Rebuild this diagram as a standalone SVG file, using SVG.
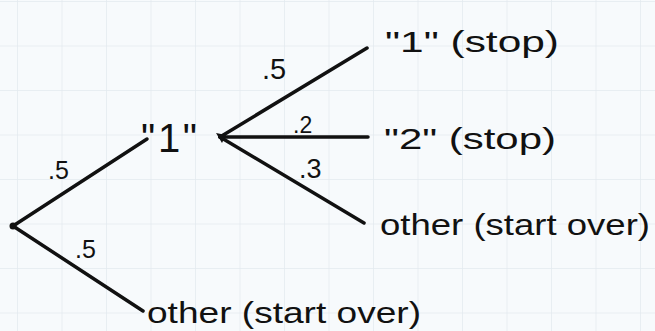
<svg xmlns="http://www.w3.org/2000/svg" width="655" height="331" viewBox="0 0 655 331">
<defs>
<pattern id="grid" x="17" y="1" width="44.5" height="44.5" patternUnits="userSpaceOnUse">
<path d="M0 0 V44.5 M0 0 H44.5" fill="none" stroke="#e3eaf0" stroke-width="1.5"/>
</pattern>
</defs>
<style>
.edge{fill:none;stroke:#111;stroke-width:3.5;stroke-linecap:round}
.dot{fill:#111}
.lbl{font-family:"Liberation Sans",Arial,sans-serif;fill:#111}
.leaf{font-size:30px}
.prob{font-size:25px}
</style>
<rect width="655" height="331" fill="#f7fafc"/>
<rect width="655" height="331" fill="url(#grid)"/>
<g id="connectors">
<path class="edge" d="M13 226 L147 139"/>
<path class="edge" d="M13 226 L143 311"/>
<path class="edge" d="M220 137 L367 48"/>
<path class="edge" d="M220 137 L368 137"/>
<path class="edge" d="M220 137 L364 223"/>
<text class="lbl prob" x="48" y="179">.5</text>
<text class="lbl prob" x="75" y="258">.5</text>
<text class="lbl prob" x="262" y="79" style="font-size:29px">.5</text>
<text class="lbl prob" x="293" y="133" style="font-size:23px">.2</text>
<text class="lbl prob" x="299" y="178" style="font-size:27px">.3</text>
</g>
<g id="root"><circle class="dot" cx="13" cy="226" r="3.5"/></g>
<g id="node1">
<text class="lbl" x="141" y="152" font-size="40" textLength="56" lengthAdjust="spacing">"1"</text>
</g>
<g id="node2"><path class="dot" d="M216 133 L226 135 L222 143 Z"/></g>
<g id="leaf1"><text class="lbl leaf" x="385" y="52" textLength="174" lengthAdjust="spacingAndGlyphs">"1" (stop)</text></g>
<g id="leaf2"><text class="lbl leaf" x="384" y="149" textLength="172" lengthAdjust="spacingAndGlyphs">"2" (stop)</text></g>
<g id="leaf3"><text class="lbl leaf" x="380" y="235" textLength="270" lengthAdjust="spacingAndGlyphs">other (start over)</text></g>
<g id="leaf4"><text class="lbl leaf" x="147" y="323" textLength="274" lengthAdjust="spacingAndGlyphs">other (start over)</text></g>
</svg>
